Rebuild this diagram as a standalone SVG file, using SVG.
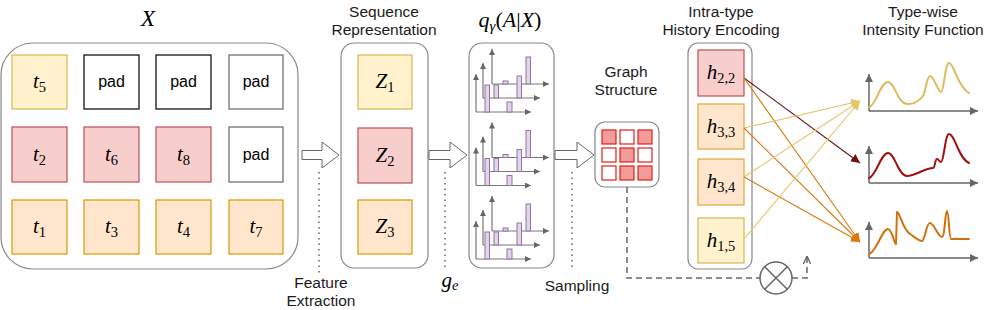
<svg xmlns="http://www.w3.org/2000/svg" xmlns:xlink="http://www.w3.org/1999/xlink" width="996" height="310" viewBox="0 0 996 310">
<style>
.lbl{font-family:"Liberation Sans",Arial,sans-serif;font-size:15.5px;fill:#1a1a1a;text-anchor:middle}
.pad{font-family:"Liberation Sans",Arial,sans-serif;font-size:16px;fill:#000;text-anchor:middle}
.m{font-family:"Liberation Serif","Times New Roman",serif;font-size:21px;fill:#000;text-anchor:middle}
.i{font-style:italic}
.sb{font-size:14.5px}
.cont{fill:#fff;stroke:#888;stroke-width:1.2}
.yel{fill:#fff2cc;stroke:#d6b656;stroke-width:1.2}
.red{fill:#f8cecc;stroke:#b85450;stroke-width:1.2}
.ora{fill:#ffe6cc;stroke:#d79b00;stroke-width:1.2}
.padb{fill:#fff;stroke:#000;stroke-width:1.2}
.padg{fill:#fff;stroke:#666;stroke-width:1.2}
.blk{fill:#fff;stroke:#666;stroke-width:1}
.dot{stroke:#666;stroke-width:1.5;stroke-dasharray:1.5 4;fill:none}
.dash{stroke:#666;stroke-width:1.5;stroke-dasharray:6 4;fill:none}
.ax{stroke:#666;stroke-width:1.5;fill:none}
.hax{stroke:#777;stroke-width:1.2;fill:none}
.bar{fill:#e1d5e7;stroke:#9673a6;stroke-width:1}
.gon{fill:#f19c99;stroke:#e01f1f;stroke-width:1.2}
.goff{fill:#fff;stroke:#e01f1f;stroke-width:1.2}
.cm{stroke:#6f1010;stroke-width:1.1;fill:none}
.co{stroke:#d9780f;stroke-width:1.1;fill:none}
.cy{stroke:#e6c46c;stroke-width:1.1;fill:none}
.crv{fill:none;stroke-width:2;stroke-linejoin:round;stroke-linecap:round}
</style>
<defs>
<marker id="aM" viewBox="0 0 10 10" refX="10" refY="5" markerWidth="9" markerHeight="9" markerUnits="userSpaceOnUse" orient="auto"><path d="M0,0 L10,5 L0,10 z" fill="#6f1010"/></marker>
<marker id="aO" viewBox="0 0 10 10" refX="10" refY="5" markerWidth="9" markerHeight="9" markerUnits="userSpaceOnUse" orient="auto"><path d="M0,0 L10,5 L0,10 z" fill="#d9780f"/></marker>
<marker id="aY" viewBox="0 0 10 10" refX="10" refY="5" markerWidth="9" markerHeight="9" markerUnits="userSpaceOnUse" orient="auto"><path d="M0,0 L10,5 L0,10 z" fill="#e6c46c"/></marker>
<marker id="aG" viewBox="0 0 10 10" refX="10" refY="5" markerWidth="8" markerHeight="8" markerUnits="userSpaceOnUse" orient="auto"><path d="M0,0 L10,5 L0,10 z" fill="#666"/></marker>
<marker id="aH" viewBox="0 0 10 10" refX="10" refY="5" markerWidth="6" markerHeight="6" markerUnits="userSpaceOnUse" orient="auto"><path d="M0,0 L10,5 L0,10 z" fill="#666"/></marker>
<marker id="aOpen" viewBox="0 0 10 10" refX="10" refY="5" markerWidth="9" markerHeight="9" markerUnits="userSpaceOnUse" orient="auto"><path d="M1,1 L10,5 L1,9" fill="none" stroke="#666" stroke-width="1.5"/></marker>
<g id="hist">
<line class="hax" x1="476" y1="112" x2="476" y2="74" marker-end="url(#aH)"/>
<line class="hax" x1="476" y1="112" x2="531" y2="112" marker-end="url(#aH)"/>
<line class="hax" x1="483" y1="98" x2="483" y2="63" marker-end="url(#aH)"/>
<line class="hax" x1="483" y1="98" x2="540" y2="98" marker-end="url(#aH)"/>
<line class="hax" x1="492" y1="84" x2="492" y2="49" marker-end="url(#aH)"/>
<line class="hax" x1="492" y1="84" x2="549" y2="84" marker-end="url(#aH)"/>
<rect class="bar" x="485" y="85" width="4.5" height="27"/>
<rect class="bar" x="494" y="85" width="4.5" height="13"/>
<rect class="bar" x="503" y="81" width="5" height="3"/>
<rect class="bar" x="507" y="102" width="5" height="10"/>
<rect class="bar" x="517" y="76" width="4.5" height="22"/>
<rect class="bar" x="526" y="57" width="4.5" height="27"/>
</g>
</defs>

<!-- titles -->
<g id="titles">
<text class="m i" x="148" y="26" style="font-size:23px">X</text>
<text class="lbl" x="384" y="17">Sequence</text>
<text class="lbl" x="384" y="35">Representation</text>
<text class="m" x="510" y="27" style="font-size:22px"><tspan class="i">q</tspan><tspan class="i" style="font-size:15px" dy="4">γ</tspan><tspan dy="-4">(</tspan><tspan class="i">A</tspan><tspan>|</tspan><tspan class="i">X</tspan><tspan>)</tspan></text>
<text class="lbl" x="626" y="77">Graph</text>
<text class="lbl" x="626" y="95">Structure</text>
<text class="lbl" x="721" y="17">Intra-type</text>
<text class="lbl" x="721" y="35">History Encoding</text>
<text class="lbl" x="923" y="17">Type-wise</text>
<text class="lbl" x="923" y="35">Intensity Function</text>
</g>

<!-- input X -->
<g id="input-X">
<rect class="cont" x="1" y="43" width="297" height="226" rx="32"/>
<rect class="yel" x="12" y="55" width="55" height="54"/>
<text class="m" x="39.5" y="88"><tspan class="i">t</tspan><tspan class="sb" dy="4">5</tspan></text>
<rect class="padb" x="84" y="55" width="55" height="54"/>
<text class="pad" x="111.5" y="87">pad</text>
<rect class="padb" x="156" y="55" width="55" height="54"/>
<text class="pad" x="183.5" y="87">pad</text>
<rect class="padg" x="229" y="55" width="54" height="54"/>
<text class="pad" x="256" y="87">pad</text>
<rect class="red" x="12" y="127" width="55" height="55"/>
<text class="m" x="39.5" y="161"><tspan class="i">t</tspan><tspan class="sb" dy="4">2</tspan></text>
<rect class="red" x="84" y="127" width="55" height="55"/>
<text class="m" x="111.5" y="161"><tspan class="i">t</tspan><tspan class="sb" dy="4">6</tspan></text>
<rect class="red" x="156" y="127" width="55" height="55"/>
<text class="m" x="183.5" y="161"><tspan class="i">t</tspan><tspan class="sb" dy="4">8</tspan></text>
<rect class="padg" x="229" y="127" width="54" height="55"/>
<text class="pad" x="256" y="160">pad</text>
<rect class="ora" x="12" y="200" width="55" height="54"/>
<text class="m" x="39.5" y="233"><tspan class="i">t</tspan><tspan class="sb" dy="4">1</tspan></text>
<rect class="ora" x="84" y="200" width="55" height="54"/>
<text class="m" x="111.5" y="233"><tspan class="i">t</tspan><tspan class="sb" dy="4">3</tspan></text>
<rect class="ora" x="156" y="200" width="55" height="54"/>
<text class="m" x="183.5" y="233"><tspan class="i">t</tspan><tspan class="sb" dy="4">4</tspan></text>
<rect class="ora" x="229" y="200" width="54" height="54"/>
<text class="m" x="256" y="233"><tspan class="i">t</tspan><tspan class="sb" dy="4">7</tspan></text>
</g>

<!-- sequence representation -->
<g id="seq-rep">
<rect class="cont" x="341" y="43" width="87" height="225" rx="13"/>
<rect class="yel" x="358" y="55" width="54" height="54"/>
<text class="m" x="385" y="88"><tspan class="i">Z</tspan><tspan class="sb" dy="4">1</tspan></text>
<rect class="red" x="358" y="128" width="54" height="55"/>
<text class="m" x="385" y="162"><tspan class="i">Z</tspan><tspan class="sb" dy="4">2</tspan></text>
<rect class="ora" x="358" y="200" width="54" height="54"/>
<text class="m" x="385" y="233"><tspan class="i">Z</tspan><tspan class="sb" dy="4">3</tspan></text>
</g>

<!-- q_gamma -->
<g id="q-gamma">
<rect class="cont" x="469" y="43" width="85" height="225" rx="13"/>
<use xlink:href="#hist"/>
<use xlink:href="#hist" transform="translate(0,73.5)"/>
<use xlink:href="#hist" transform="translate(0,147)"/>
</g>

<!-- graph structure -->
<g id="graph-structure">
<rect class="cont" x="595" y="122" width="64" height="65" rx="10"/>
<rect class="gon" x="602" y="130" width="14" height="14"/>
<rect class="goff" x="620" y="130" width="14" height="14"/>
<rect class="gon" x="638" y="130" width="14" height="14"/>
<rect class="goff" x="602" y="148" width="14" height="14"/>
<rect class="gon" x="620" y="148" width="14" height="14"/>
<rect class="goff" x="638" y="148" width="14" height="14"/>
<rect class="goff" x="602" y="166" width="14" height="14"/>
<rect class="gon" x="620" y="166" width="14" height="14"/>
<rect class="gon" x="638" y="166" width="14" height="14"/>
</g>

<!-- history encoding -->
<g id="history-encoding">
<rect class="cont" x="688" y="43" width="64" height="226" rx="10"/>
<rect class="red" x="698" y="50" width="46" height="46"/>
<text class="m" x="721" y="79"><tspan class="i">h</tspan><tspan class="sb" dy="4">2,2</tspan></text>
<rect class="ora" x="698" y="104" width="46" height="45" style="stroke:#e0a93a"/>
<text class="m" x="721" y="133"><tspan class="i">h</tspan><tspan class="sb" dy="4">3,3</tspan></text>
<rect class="ora" x="698" y="159" width="46" height="46" style="stroke:#e0a93a"/>
<text class="m" x="721" y="188"><tspan class="i">h</tspan><tspan class="sb" dy="4">3,4</tspan></text>
<rect class="yel" x="698" y="218" width="46" height="45"/>
<text class="m" x="721" y="247"><tspan class="i">h</tspan><tspan class="sb" dy="4">1,5</tspan></text>
</g>

<!-- multiply node -->
<g id="multiply">
<circle cx="776" cy="278" r="16" fill="#fff" stroke="#666" stroke-width="1.5"/>
<line x1="764.7" y1="266.7" x2="787.3" y2="289.3" stroke="#666" stroke-width="1.5"/>
<line x1="787.3" y1="266.7" x2="764.7" y2="289.3" stroke="#666" stroke-width="1.5"/>
</g>

<!-- intensity functions -->
<g id="intensity-1">
<line class="ax" x1="869" y1="111" x2="869" y2="74" marker-end="url(#aG)"/>
<line class="ax" x1="869" y1="111" x2="978" y2="111" marker-end="url(#aG)"/>
<path class="crv" stroke="#dcbb5c" d="M869,107 C876,106 880,82 888,82 C895,82 897,104 908,104 C916,104 920,100 923,96 C926,90 927,76 930,76 C934,76 938,92 941,92 C944,92 945,63 949,63 C954,63 957,86 969,93"/>
</g>
<g id="intensity-2">
<line class="ax" x1="869" y1="183" x2="869" y2="146" marker-end="url(#aG)"/>
<line class="ax" x1="869" y1="183" x2="978" y2="183" marker-end="url(#aG)"/>
<path class="crv" stroke="#a30f0f" d="M869,178 C876,176 881,153 888,153 C895,153 898,176 907,176 C915,176 925,168 933,168 C935,168 935,159 937,159 C939,159 939,162 941,162 C944,162 945,134 949,134 C955,134 958,158 969,163"/>
</g>
<g id="intensity-3">
<line class="ax" x1="869" y1="258" x2="869" y2="222" marker-end="url(#aG)"/>
<line class="ax" x1="869" y1="258" x2="978" y2="258" marker-end="url(#aG)"/>
<path class="crv" stroke="#d4700a" d="M869,254 C876,253 882,229 888,229 C892,229 894,244 896,244 L897,212 C900,212 902,228 910,234 C916,238 919,241 922,241 C925,241 926,223 930,223 C934,223 938,237 942,237 C945,237 945,211 947,211 C949,211 949,239 951,239 L969,239"/>
</g>

<!-- connectors -->
<g id="connectors">
<path class="blk" d="M302,150.5 H322 V142 L339,155 L322,168 V159.5 H302 Z"/>
<path class="blk" d="M429,150.5 H450 V142 L467,155 L450,168 V159.5 H429 Z"/>
<path class="blk" d="M555,150.5 H577 V142 L594,155 L577,168 V159.5 H555 Z"/>
<line class="dot" x1="319" y1="172" x2="319" y2="273"/>
<line class="dot" x1="445" y1="172" x2="445" y2="268"/>
<line class="dot" x1="572" y1="172" x2="572" y2="268"/>
<path class="dash" d="M627,187 V278 H760"/>
<path class="dash" d="M792,278 H807 V256" marker-end="url(#aOpen)"/>
<line class="cm" x1="744" y1="78" x2="860" y2="163" marker-end="url(#aM)"/>
<line class="co" x1="744" y1="78" x2="860" y2="242" marker-end="url(#aO)"/>
<line class="cy" x1="744" y1="128" x2="860" y2="101" marker-end="url(#aY)"/>
<line class="co" x1="744" y1="128" x2="860" y2="242" marker-end="url(#aO)"/>
<line class="cy" x1="744" y1="177" x2="860" y2="101" marker-end="url(#aY)"/>
<line class="co" x1="744" y1="177" x2="860" y2="242" marker-end="url(#aO)"/>
<line class="cy" x1="744" y1="239" x2="860" y2="101" marker-end="url(#aY)"/>
</g>

<!-- connector labels -->
<g id="connector-labels">
<text class="lbl" x="321" y="288">Feature</text>
<text class="lbl" x="321" y="306">Extraction</text>
<text class="m" x="450" y="287"><tspan class="i">g</tspan><tspan class="i sb" dy="3">e</tspan></text>
<text class="lbl" x="577" y="291">Sampling</text>
</g>
</svg>
